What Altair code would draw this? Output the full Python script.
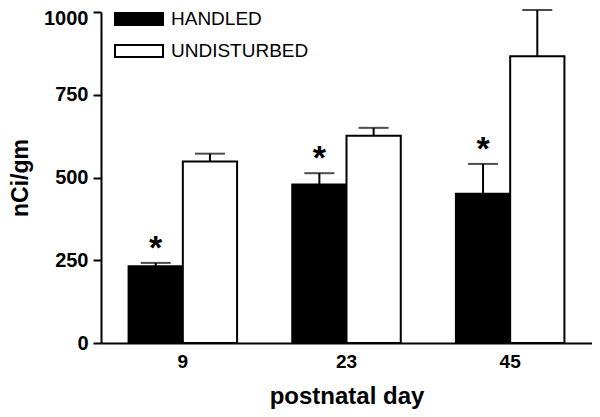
import altair as alt
import pandas as pd

days = ["9", "23", "45"]
groups = ["HANDLED", "UNDISTURBED"]
handled = [232, 479, 451]
handled_err = [10, 34, 90]
undisturbed = [548, 626, 866]
undisturbed_err = [24, 24, 140]
significant = [True, True, True]

rows = []
for i, d in enumerate(days):
    rows.append({"day": d, "group": "HANDLED", "value": handled[i],
                 "upper": handled[i] + handled_err[i], "star": "*" if significant[i] else ""})
    rows.append({"day": d, "group": "UNDISTURBED", "value": undisturbed[i],
                 "upper": undisturbed[i] + undisturbed_err[i], "star": ""})
df = pd.DataFrame(rows)

FONT = "Liberation Sans"

x = alt.X("day:N", sort=days, title="postnatal day",
          scale=alt.Scale(paddingInner=0.337, paddingOuter=0.1685),
          axis=alt.Axis(labelAngle=0, ticks=False, labelFontSize=19, labelFontWeight="bold",
                        labelFont=FONT, labelPadding=9, titleFontSize=24, titleFont=FONT,
                        titleFontWeight="bold", titlePadding=13, domainColor="black",
                        domainWidth=2, labelColor="black", titleColor="black"))
xo = alt.XOffset("group:N", sort=groups, scale=alt.Scale(paddingInner=0, paddingOuter=0))
y = alt.Y("value:Q", title="nCi/gm",
          scale=alt.Scale(domain=[0, 1000], nice=False),
          axis=alt.Axis(values=[0, 250, 500, 750, 1000], format="d", grid=False,
                        tickSize=8, tickWidth=2,
                        tickColor="black", domainColor="black", domainWidth=2,
                        labelFontSize=20, labelFontWeight="bold", labelFont=FONT,
                        labelColor="black", labelPadding=5, titleFontSize=23, titleFont=FONT,
                        titleFontWeight="bold", titleColor="black", titlePadding=11,
                        labelOffset={"condition": {"test": "datum.value == 1000", "value": 6},
                                     "value": 0}))

color = alt.Color("group:N", sort=groups,
                  scale=alt.Scale(domain=groups, range=["black", "white"]),
                  legend=alt.Legend(title=None, orient="none", legendX=13, legendY=-8,
                                    symbolType="M-1,-0.25L1,-0.25L1,0.25L-1,0.25Z",
                                    symbolSize=2304, symbolStrokeColor="black",
                                    symbolStrokeWidth=2, symbolOpacity=1,
                                    labelFontSize=19, labelFont=FONT, labelColor="black",
                                    labelOffset=7, rowPadding=2, clipHeight=30, padding=0))

bars = alt.Chart(df).mark_bar(stroke="black", strokeWidth=2, opacity=1).encode(
    x=x, xOffset=xo, y=y, fill=color)

rules = alt.Chart(df).mark_rule(color="black", strokeWidth=2).encode(
    x=alt.X("day:N", sort=days), xOffset=xo, y="value:Q", y2="upper:Q")

caps = alt.Chart(df).mark_tick(color="black", thickness=2, size=30, orient="horizontal").encode(
    x=alt.X("day:N", sort=days), xOffset=xo, y="upper:Q")

stars = alt.Chart(df).mark_text(fontSize=34, fontWeight="bold", font=FONT, color="black",
                                baseline="alphabetic", dy=-4).encode(
    x=alt.X("day:N", sort=days), xOffset=xo, y="upper:Q", text="star:N")

chart = alt.layer(bars, rules, caps, stars).properties(
    width=491, height=331,
    autosize=alt.AutoSizeParams(type="none"),
    padding={"left": 93, "top": 4, "right": 0, "bottom": 66},
).configure_view(stroke=None)

chart.save("out.html", embed_options={"renderer": "svg", "actions": False})
